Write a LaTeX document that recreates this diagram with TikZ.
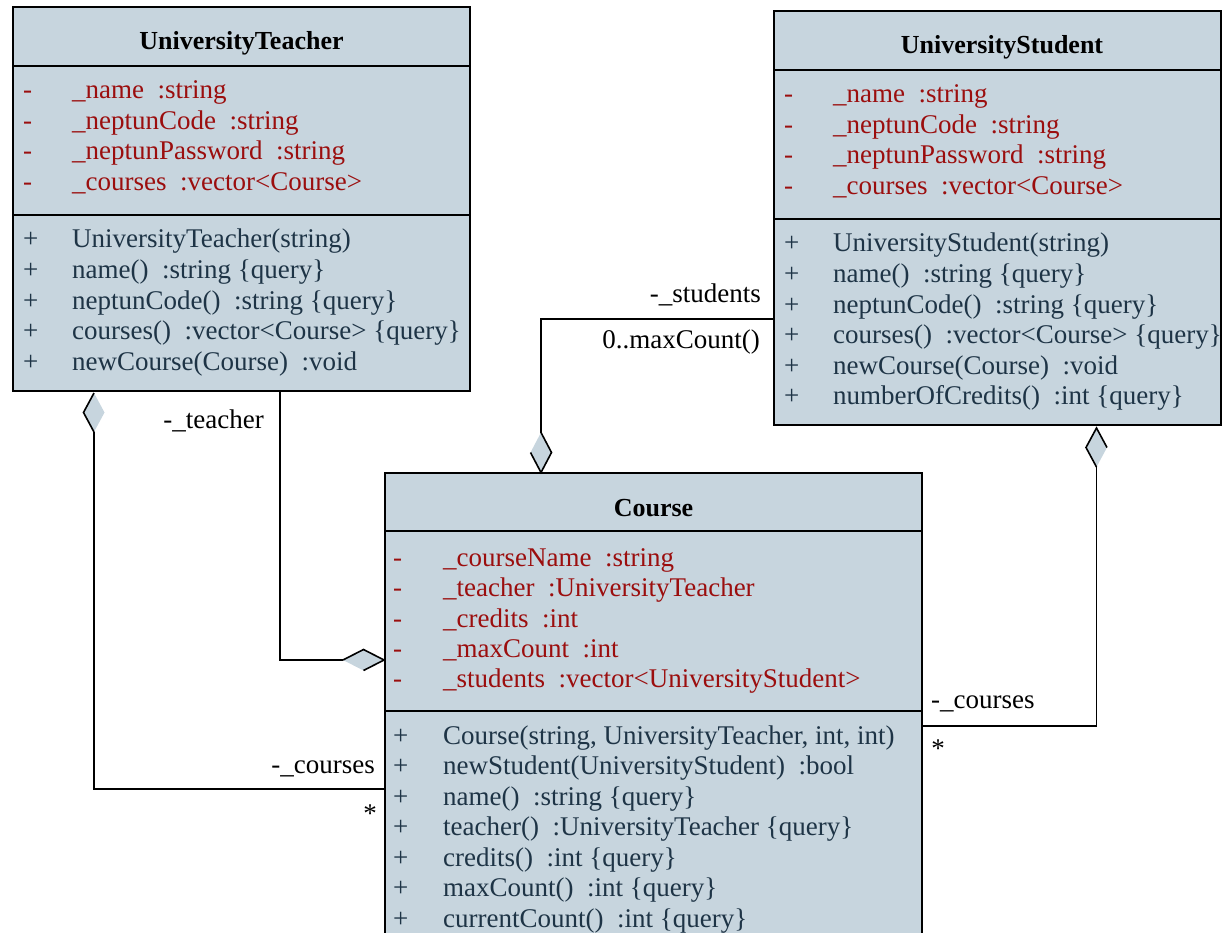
\documentclass[tikz,border=0pt]{standalone}
\usepackage{fontspec}
\setmainfont{Liberation Serif}
\usetikzlibrary{shapes.geometric,calc}
\definecolor{classfill}{RGB}{199,213,222}
\definecolor{attrcol}{RGB}{155,14,14}
\definecolor{methcol}{RGB}{30,52,70}
\newcommand{\gp}{\hspace{0.5em}}
\begin{document}
\begin{tikzpicture}[x=1pt,y=-1pt,
  classbox/.style={draw=black,line width=1.8pt,fill=classfill,anchor=north west,inner sep=0pt,outer sep=0pt},
  attr/.style={anchor=base west,inner sep=0pt,text=attrcol,font=\fontsize{27}{30}\selectfont},
  meth/.style={anchor=base west,inner sep=0pt,text=methcol,font=\fontsize{27}{30}\selectfont},
  ctitle/.style={anchor=base,inner sep=0pt,font=\bfseries\fontsize{26}{30}\selectfont},
  lbl/.style={inner sep=0pt,font=\fontsize{27}{30}\selectfont},
  conn/.style={line width=1.6pt},
  sep/.style={line width=1.8pt},
  agg/.style={shape=diamond,fill=classfill,inner sep=0pt,outer sep=0pt}]
\useasboundingbox (0,0) rectangle (1223,933);
\clip (0,0) rectangle (1223,933);

% ---------- UniversityTeacher ----------
\node[classbox,minimum width=457pt,minimum height=384pt] (teacher) at (13,7) {};
\draw[sep] (teacher.west |- 0,66) -- (teacher.east |- 0,66);
\draw[sep] (teacher.west |- 0,215) -- (teacher.east |- 0,215);
\node[ctitle] (tT) at (241.5,50) {UniversityTeacher};
\node[attr] (ta1) at (23,99) {-};  \node[attr] (ta1t) at (72,99) {\_name\gp:string};
\node[attr] (ta2) at (23,129.5) {-}; \node[attr] (ta2t) at (72,129.5) {\_neptunCode\gp:string};
\node[attr] (ta3) at (23,160) {-}; \node[attr] (ta3t) at (72,160) {\_neptunPassword\gp:string};
\node[attr] (ta4) at (23,190.5) {-}; \node[attr] (ta4t) at (72,190.5) {\_courses\gp:vector<Course>};
\node[meth] (tm1) at (23,248) {+}; \node[meth] (tm1t) at (72,248) {UniversityTeacher(string)};
\node[meth] (tm2) at (23,278.5) {+}; \node[meth] (tm2t) at (72,278.5) {name()\gp:string \{query\}};
\node[meth] (tm3) at (23,309) {+}; \node[meth] (tm3t) at (72,309) {neptunCode()\gp:string \{query\}};
\node[meth] (tm4) at (23,339.5) {+}; \node[meth] (tm4t) at (72,339.5) {courses()\gp:vector<Course> \{query\}};
\node[meth] (tm5) at (23,370) {+}; \node[meth] (tm5t) at (72,370) {newCourse(Course)\gp:void};

% ---------- UniversityStudent ----------
\node[classbox,minimum width=447pt,minimum height=414pt] (student) at (774,11) {};
\draw[sep] (student.west |- 0,70) -- (student.east |- 0,70);
\draw[sep] (student.west |- 0,219) -- (student.east |- 0,219);
\node[ctitle] (sT) at (1002,54) {UniversityStudent};
\node[attr] (sa1) at (784,103) {-}; \node[attr] (sa1t) at (833,103) {\_name\gp:string};
\node[attr] (sa2) at (784,133.5) {-}; \node[attr] (sa2t) at (833,133.5) {\_neptunCode\gp:string};
\node[attr] (sa3) at (784,164) {-}; \node[attr] (sa3t) at (833,164) {\_neptunPassword\gp:string};
\node[attr] (sa4) at (784,194.5) {-}; \node[attr] (sa4t) at (833,194.5) {\_courses\gp:vector<Course>};
\node[meth] (sm1) at (784,252) {+}; \node[meth] (sm1t) at (833,252) {UniversityStudent(string)};
\node[meth] (sm2) at (784,282.5) {+}; \node[meth] (sm2t) at (833,282.5) {name()\gp:string \{query\}};
\node[meth] (sm3) at (784,313) {+}; \node[meth] (sm3t) at (833,313) {neptunCode()\gp:string \{query\}};
\node[meth] (sm4) at (784,343.5) {+}; \node[meth] (sm4t) at (833,343.5) {courses()\gp:vector<Course> \{query\}};
\node[meth] (sm5) at (784,374) {+}; \node[meth] (sm5t) at (833,374) {newCourse(Course)\gp:void};
\node[meth] (sm6) at (784,404.5) {+}; \node[meth] (sm6t) at (833,404.5) {numberOfCredits()\gp:int \{query\}};

% ---------- Course ----------
\node[classbox,minimum width=537pt,minimum height=520pt] (course) at (385,473) {};
\draw[sep] (course.west |- 0,531) -- (course.east |- 0,531);
\draw[sep] (course.west |- 0,711) -- (course.east |- 0,711);
\node[ctitle] (cT) at (653.5,516) {Course};
\node[attr] (ca1) at (393,566) {-}; \node[attr] (ca1t) at (443,566) {\_courseName\gp:string};
\node[attr] (ca2) at (393,596.5) {-}; \node[attr] (ca2t) at (443,596.5) {\_teacher\gp:UniversityTeacher};
\node[attr] (ca3) at (393,627) {-}; \node[attr] (ca3t) at (443,627) {\_credits\gp:int};
\node[attr] (ca4) at (393,657) {-}; \node[attr] (ca4t) at (443,657) {\_maxCount\gp:int};
\node[attr] (ca5) at (393,687) {-}; \node[attr] (ca5t) at (443,687) {\_students\gp:vector<UniversityStudent>};
\node[meth] (cm1) at (393,744) {+}; \node[meth] (cm1t) at (443,744) {Course(string, UniversityTeacher, int, int)};
\node[meth] (cm2) at (393,774.5) {+}; \node[meth] (cm2t) at (443,774.5) {newStudent(UniversityStudent)\gp:bool};
\node[meth] (cm3) at (393,805) {+}; \node[meth] (cm3t) at (443,805) {name()\gp:string \{query\}};
\node[meth] (cm4) at (393,835.5) {+}; \node[meth] (cm4t) at (443,835.5) {teacher()\gp:UniversityTeacher \{query\}};
\node[meth] (cm5) at (393,866) {+}; \node[meth] (cm5t) at (443,866) {credits()\gp:int \{query\}};
\node[meth] (cm6) at (393,896.5) {+}; \node[meth] (cm6t) at (443,896.5) {maxCount()\gp:int \{query\}};
\node[meth] (cm7) at (393,927) {+}; \node[meth] (cm7t) at (443,927) {currentCount()\gp:int \{query\}};

% ---------- aggregation diamonds ----------
\node[agg,minimum width=21pt,minimum height=39pt] (d1) at (94,412.5) {};
\node[agg,minimum width=41pt,minimum height=21pt] (d2) at (363.5,660) {};
\node[agg,minimum width=21pt,minimum height=40pt] (d3) at (541,452.5) {};
\node[agg,minimum width=21pt,minimum height=39pt] (d4) at (1096.5,447.5) {};
\draw[conn] (d1.north) -- (d1.west) -- (d1.south);
\draw[conn] (d2.west) -- (d2.north) -- (d2.east) -- (d2.south);
\draw[conn] (d3.north) -- (d3.east) -- (d3.south) -- (d3.west);
\draw[conn] (d4.east) -- (d4.north) -- (d4.west) -- (d4.south);

% ---------- connectors ----------
\coordinate (b1) at (94,789);
\draw[conn] (d1.south) -- (b1) -- (b1 -| course.west);
\coordinate (b2) at (280,391);
\draw[conn] (b2) |- (d2.west);
\coordinate (b3) at (541,319);
\draw[conn] (b3 -| student.west) -- (b3) -- (d3.north);
\coordinate (b4) at (1096.5,726);
\draw[conn] (b4 -| course.east) -- (b4) -- (d4.south);

% ---------- labels ----------
\node[lbl,anchor=base east] (l1) at (375,773) {-\_courses};
\node[lbl] (l1m) at (370,814) {*};
\node[lbl,anchor=base east] (l2) at (264,428) {-\_teacher};
\node[lbl,anchor=base east] (l3) at (761,302) {-\_students};
\node[lbl,anchor=base east] (l3m) at (760,348) {0..maxCount()};
\node[lbl,anchor=base west] (l4) at (931,708) {-\_courses};
\node[lbl] (l4m) at (938,749) {*};
\end{tikzpicture}
\end{document}
